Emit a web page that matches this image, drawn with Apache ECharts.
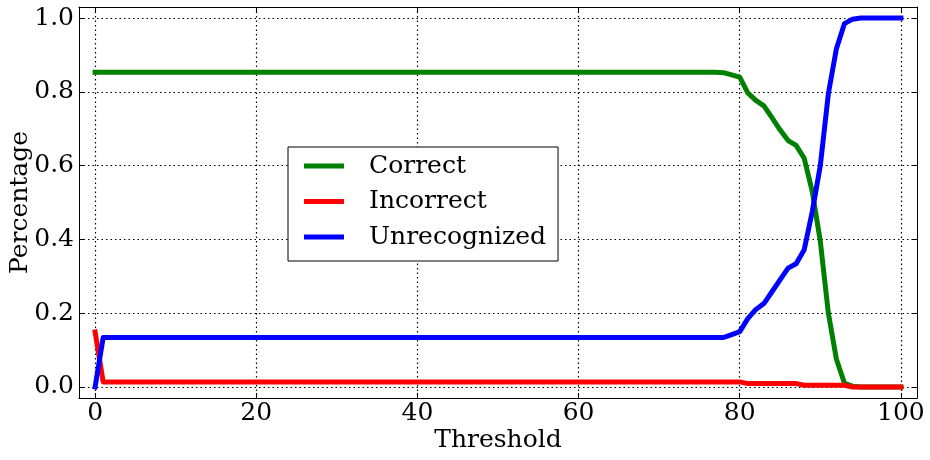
<!DOCTYPE html>
<html>
<head>
<meta charset="utf-8">
<script src="https://cdn.jsdelivr.net/npm/echarts@6/dist/echarts.min.js"></script>
<style>
html,body{margin:0;padding:0;background:#fff;}
#chart{width:930px;height:460px;}
</style>
</head>
<body>
<div id="chart"></div>
<script>
const seriesNames = ['Correct', 'Incorrect', 'Unrecognized'];
const seriesColors = ['#008000', '#ff0000', '#0000ff'];

const thresholds = [
  0,1,2,3,4,5,6,7,8,9,
  10,11,12,13,14,15,16,17,18,19,
  20,21,22,23,24,25,26,27,28,29,
  30,31,32,33,34,35,36,37,38,39,
  40,41,42,43,44,45,46,47,48,49,
  50,51,52,53,54,55,56,57,58,59,
  60,61,62,63,64,65,66,67,68,69,
  70,71,72,73,74,75,76,77,78,79,
  80,81,82,83,84,85,86,87,88,89,
  90,91,92,93,94,95,96,97,98,99,
  100
];

const correct = [
  0.853,0.853,0.853,0.853,0.853,0.853,0.853,0.853,0.853,0.853,
  0.853,0.853,0.853,0.853,0.853,0.853,0.853,0.853,0.853,0.853,
  0.853,0.853,0.853,0.853,0.853,0.853,0.853,0.853,0.853,0.853,
  0.853,0.853,0.853,0.853,0.853,0.853,0.853,0.853,0.853,0.853,
  0.853,0.853,0.853,0.853,0.853,0.853,0.853,0.853,0.853,0.853,
  0.853,0.853,0.853,0.853,0.853,0.853,0.853,0.853,0.853,0.853,
  0.853,0.853,0.853,0.853,0.853,0.853,0.853,0.853,0.853,0.853,
  0.853,0.853,0.853,0.853,0.853,0.853,0.853,0.853,0.852,0.846,
  0.840,0.797,0.777,0.762,0.730,0.697,0.668,0.655,0.620,0.530,
  0.395,0.200,0.075,0.010,0.002,0,0,0,0,0,
  0
];

const incorrect = [
  0.149,0.0136,0.0136,0.0136,0.0136,0.0136,0.0136,0.0136,0.0136,0.0136,
  0.0136,0.0136,0.0136,0.0136,0.0136,0.0136,0.0136,0.0136,0.0136,0.0136,
  0.0136,0.0136,0.0136,0.0136,0.0136,0.0136,0.0136,0.0136,0.0136,0.0136,
  0.0136,0.0136,0.0136,0.0136,0.0136,0.0136,0.0136,0.0136,0.0136,0.0136,
  0.0136,0.0136,0.0136,0.0136,0.0136,0.0136,0.0136,0.0136,0.0136,0.0136,
  0.0136,0.0136,0.0136,0.0136,0.0136,0.0136,0.0136,0.0136,0.0136,0.0136,
  0.0136,0.0136,0.0136,0.0136,0.0136,0.0136,0.0136,0.0136,0.0136,0.0136,
  0.0136,0.0136,0.0136,0.0136,0.0136,0.0136,0.0136,0.0136,0.0136,0.0136,
  0.0136,0.009,0.009,0.009,0.009,0.009,0.009,0.009,0.0045,0.0045,
  0.0045,0.0045,0.0045,0.0045,0,0,0,0,0,0,
  0
];

const unrecognized = [
  0,0.134,0.134,0.134,0.134,0.134,0.134,0.134,0.134,0.134,
  0.134,0.134,0.134,0.134,0.134,0.134,0.134,0.134,0.134,0.134,
  0.134,0.134,0.134,0.134,0.134,0.134,0.134,0.134,0.134,0.134,
  0.134,0.134,0.134,0.134,0.134,0.134,0.134,0.134,0.134,0.134,
  0.134,0.134,0.134,0.134,0.134,0.134,0.134,0.134,0.134,0.134,
  0.134,0.134,0.134,0.134,0.134,0.134,0.134,0.134,0.134,0.134,
  0.134,0.134,0.134,0.134,0.134,0.134,0.134,0.134,0.134,0.134,
  0.134,0.134,0.134,0.134,0.134,0.134,0.134,0.134,0.134,0.142,
  0.150,0.185,0.210,0.226,0.258,0.290,0.322,0.334,0.372,0.475,
  0.600,0.795,0.917,0.985,0.997,1,1,1,1,1,
  1
];

const xTicks = [0, 20, 40, 60, 80, 100];
const yTicks = [0, 0.2, 0.4, 0.6, 0.8, 1.0];
const xLabel = 'Threshold';
const yLabel = 'Percentage';

const FONT = '"DejaVu Serif", serif';
const FS = 25;

const seriesValues = [correct, incorrect, unrecognized];

const gridLine = { show: true, lineStyle: { color: '#000', width: 1.2, type: [1.5, 3] } };
const frameLine = { show: true, onZero: false, lineStyle: { color: '#000', width: 1 } };

const chart = echarts.init(document.getElementById('chart'), null, { renderer: 'canvas' });

chart.setOption({
  animation: false,
  backgroundColor: '#fff',
  grid: { left: 79, right: 13, top: 7, bottom: 62, containLabel: false, outerBoundsMode: 'none' },
  xAxis: [
    {
      type: 'value', min: -2, max: 102, position: 'bottom',
      name: xLabel, nameLocation: 'middle', nameGap: 30, nameMoveOverlap: false,
      nameTextStyle: { fontFamily: FONT, fontSize: FS, color: '#000' },
      axisLine: frameLine,
      axisTick: { show: true, inside: true, length: 5, customValues: xTicks, lineStyle: { color: '#000' } },
      axisLabel: { show: true, customValues: xTicks, margin: 3, fontFamily: FONT, fontSize: FS, color: '#000' },
      splitLine: gridLine
    },
    {
      type: 'value', min: -2, max: 102, position: 'top',
      axisLine: frameLine,
      axisTick: { show: true, inside: true, length: 5, customValues: xTicks, lineStyle: { color: '#000' } },
      axisLabel: { show: false },
      splitLine: { show: false }
    }
  ],
  yAxis: [
    {
      type: 'value', min: -0.03, max: 1.03, position: 'left',
      name: yLabel, nameLocation: 'middle', nameGap: 46, nameMoveOverlap: false,
      nameTextStyle: { fontFamily: FONT, fontSize: FS, color: '#000' },
      axisLine: frameLine,
      axisTick: { show: true, inside: true, length: 5, customValues: yTicks, lineStyle: { color: '#000' } },
      axisLabel: { show: true, customValues: yTicks, margin: 5, fontFamily: FONT, fontSize: FS, color: '#000',
        formatter: v => Number(v).toFixed(1) },
      splitLine: gridLine
    },
    {
      type: 'value', min: -0.03, max: 1.03, position: 'right',
      axisLine: frameLine,
      axisTick: { show: true, inside: true, length: 5, customValues: yTicks, lineStyle: { color: '#000' } },
      axisLabel: { show: false },
      splitLine: { show: false }
    }
  ],
  legend: {
    orient: 'vertical', left: 288, top: 147,
    padding: [6, 12, 11, 16], itemGap: 9.5,
    itemWidth: 40, itemHeight: 5, icon: 'rect',
    backgroundColor: '#fff', borderColor: '#000', borderWidth: 1, borderRadius: 0,
    textStyle: { fontFamily: FONT, fontSize: FS, color: '#000', lineHeight: 26, padding: [0, 0, 0, 20] },
    data: seriesNames
  },
  series: seriesNames.map((name, i) => ({
    name: name,
    type: 'line',
    xAxisIndex: 0, yAxisIndex: 0,
    showSymbol: false, symbol: 'none',
    color: seriesColors[i],
    lineStyle: { width: 5, color: seriesColors[i], join: 'round', cap: 'square' },
    z: 2 + i,
    data: thresholds.map((t, k) => [t, seriesValues[i][k]])
  }))
});
</script>
</body>
</html>
